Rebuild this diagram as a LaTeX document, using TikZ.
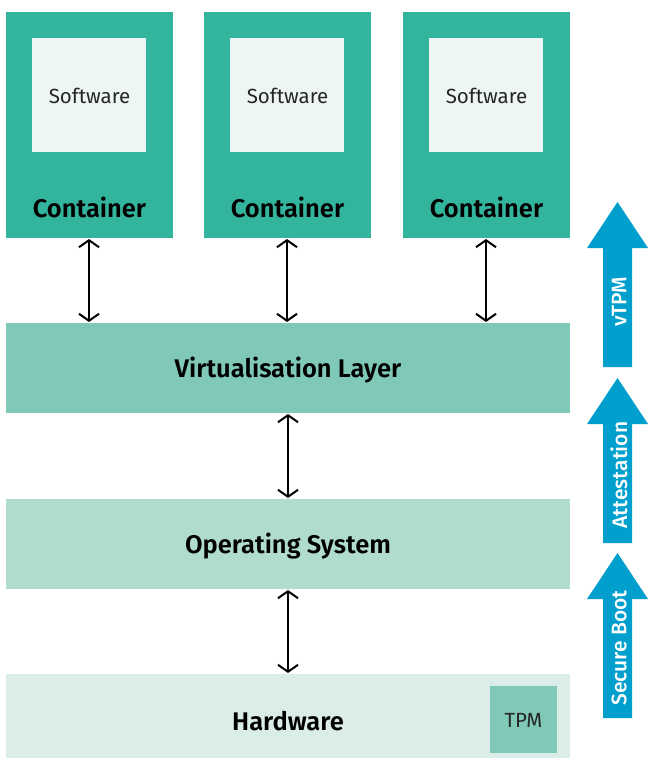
\documentclass[tikz,border=0pt]{standalone}
\usepackage{fontspec}
\setmainfont{Fira Sans}[BoldFont={Fira Sans SemiBold}]
\newfontfamily\medfont{Fira Sans Medium}
\usetikzlibrary{arrows.meta}
\definecolor{contgreen}{HTML}{33B49C}
\definecolor{softfill}{HTML}{EDF5F5}
\definecolor{virtfill}{HTML}{80C8B8}
\definecolor{osfill}{HTML}{B0DCCF}
\definecolor{hwfill}{HTML}{DAEDE8}
\definecolor{flowblue}{HTML}{009FCD}
\tikzset{
  link/.style={line width=2pt, {Straight Barb[length=7pt,width=20pt,line width=2pt]}-{Straight Barb[length=7pt,width=20pt,line width=2pt]}},
  softlabel/.style={font=\fontsize{20.5}{24}\selectfont, text=black!85},
  boldlabel/.style={font=\fontsize{25.5}{30}\selectfont\bfseries},
  bluelabel/.style={font=\fontsize{21}{25}\selectfont\medfont, text=white, rotate=90}
}
\begin{document}
\begin{tikzpicture}[x=1pt,y=-1pt]
\useasboundingbox (0,0) rectangle (648,758);

% containers with their software
\foreach \i/\x in {1/6,2/204,3/403}{
  \fill[contgreen] (\x,12) rectangle ++(167,226);
  \fill[softfill] (\x+26,38) rectangle ++(114,114);
  \node[softlabel] (sw\i) at (\x+83.5,96) {Software};
  \node[boldlabel] (ct\i) at (\x+83.5,207) {Container};
  \coordinate (ctb\i) at (\x+83,239);
  \coordinate (vlt\i) at (\x+83,322);
}

% stacked layers
\fill[virtfill] (6,323) rectangle (570,413);
\node[boldlabel] (virt) at (288,370) {Virtualisation Layer};
\fill[osfill] (6,499) rectangle (570,589);
\node[boldlabel] (os) at (288,546) {Operating System};
\fill[hwfill] (6,674) rectangle (570,758);
\node[boldlabel] (hw) at (288,721) {Hardware};
\fill[virtfill] (490,686) rectangle (557,753);
\node[softlabel] (tpm) at (523.5,720) {TPM};

\coordinate (vlb) at (288,414);
\coordinate (ost) at (288,498);
\coordinate (osb) at (288,590);
\coordinate (hwt) at (288,673);

% connectors between levels
\foreach \i in {1,2,3}{ \draw[link] (ctb\i) -- (vlt\i); }
\draw[link] (vlb) -- (ost);
\draw[link] (osb) -- (hwt);

% trust chain arrows
\foreach \n/\top/\bot/\mid/\txt in {vt/202/367/302/vTPM, at/378/543/475/Attestation, sb/553/718/648/Secure Boot}{
  \fill[flowblue] (603,\bot) -- (603,\top+46) -- (587,\top+46) -- (617.5,\top) -- (648,\top+46) -- (632,\top+46) -- (632,\bot) -- cycle;
  \node[bluelabel] (\n) at (619,\mid) {\txt};
}
\end{tikzpicture}
\end{document}
